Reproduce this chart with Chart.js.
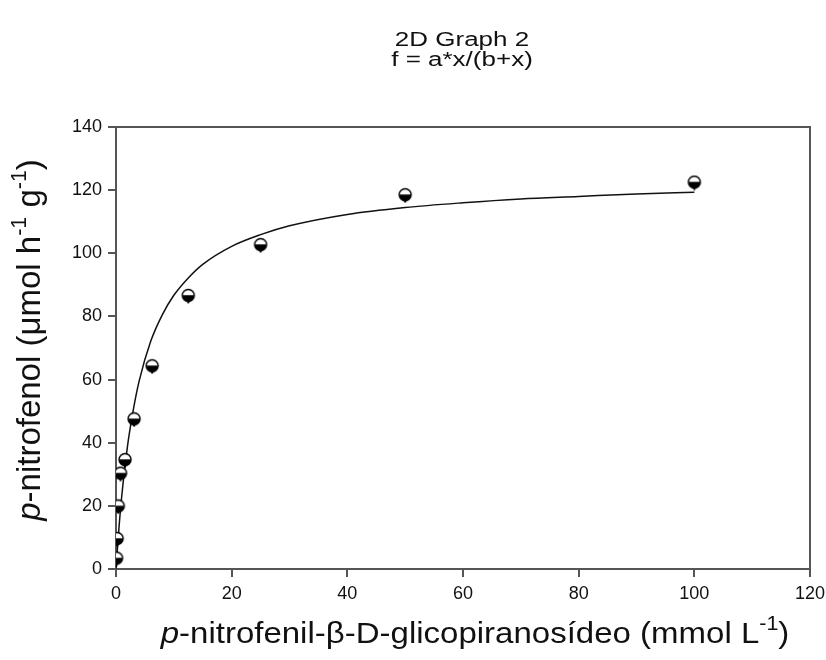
<!DOCTYPE html>
<html>
<head>
<meta charset="utf-8">
<script src="https://cdn.jsdelivr.net/npm/chart.js@4.4.0/dist/chart.umd.min.js"></script>
<style>
  html, body { margin: 0; padding: 0; background: #fff; }
  #wrap { width: 826px; height: 660px; }
</style>
</head>
<body>
<div id="wrap"><canvas id="chart"></canvas></div>
<script>
// measured points
const substrate = [0.1, 0.2, 0.39, 0.78, 1.56, 3.125, 6.25, 12.5, 25, 50, 100];
const activity = [3.3, 9.5, 19.8, 30.2, 34.5, 47.4, 64.2, 86.5, 102.6, 118.4, 122.4];
// fitted curve
const fitX = [0, 0.5, 1, 2, 3, 4, 6, 8, 10, 12.5, 15, 20, 25, 30, 40, 50, 60, 70, 80, 90, 100];
const fitY = [0, 12.7, 23.2, 39.1, 50.5, 59.5, 72.1, 80.5, 86.7, 92.2, 96.5, 102.2, 105.9, 108.7, 112.3, 114.5, 116.0, 117.2, 118.0, 118.8, 119.3];
const xTicks = [0, 20, 40, 60, 80, 100, 120];
const yTicks = [0, 20, 40, 60, 80, 100, 120, 140];

const titleLines = ["2D Graph 2", "f = a*x/(b+x)"];
const xTitle = [
  { t: "p", it: true }, { t: "-nitrofenil-\u03B2-D-glicopiranos\u00EDdeo (mmol L" },
  { t: "-1", sup: true }, { t: ")" }
];
const yTitle = [
  { t: "p", it: true }, { t: "-nitrofenol (\u03BCmol h" }, { t: "-1", sup: true },
  { t: " g" }, { t: "-1", sup: true }, { t: ")" }
];

const FONT = "'Liberation Sans', Arial, sans-serif";

// half white / half black circle marker
function makeMarker() {
  const c = document.createElement("canvas");
  c.width = 16; c.height = 16;
  const g = c.getContext("2d");
  const cx = 8, cy = 7.5, r = 6;
  g.fillStyle = "#fff";
  g.beginPath(); g.arc(cx, cy, r, 0, Math.PI * 2); g.fill();
  g.fillStyle = "#000";
  g.beginPath(); g.arc(cx, cy, r, 0, Math.PI); g.closePath(); g.fill();
  g.beginPath(); g.moveTo(cx - r, cy); g.lineTo(cx + r, cy); g.lineTo(cx, cy + r + 2.5); g.closePath(); g.fill();
  g.strokeStyle = "#000"; g.lineWidth = 1.4;
  g.beginPath(); g.arc(cx, cy, r, 0, Math.PI * 2); g.stroke();
  return c;
}

function drawRich(ctx, segs, size, cx, baseY, sx) {
  const parts = segs.map(s => {
    const fs = s.sup ? size * 0.65 : size;
    const font = (s.it ? "italic " : "") + fs + "px " + FONT;
    ctx.font = font;
    return { s, font, w: ctx.measureText(s.t).width };
  });
  const total = parts.reduce((a, p) => a + p.w, 0);
  ctx.save();
  ctx.translate(cx, baseY);
  ctx.scale(sx || 1, 1);
  let x = -total / 2;
  ctx.textAlign = "left";
  ctx.textBaseline = "alphabetic";
  parts.forEach(p => {
    ctx.font = p.font;
    ctx.fillText(p.s.t, x, p.s.sup ? -size * 0.42 : 0);
    x += p.w;
  });
  ctx.restore();
}

const textPlugin = {
  id: "texts",
  afterDraw(chart) {
    const { ctx, chartArea: a } = chart;
    ctx.save();
    ctx.strokeStyle = "#555";
    ctx.lineWidth = 2;
    ctx.beginPath();
    ctx.moveTo(a.left, a.top); ctx.lineTo(a.right, a.top); ctx.lineTo(a.right, a.bottom);
    ctx.stroke();

    ctx.fillStyle = "#111";
    drawRich(ctx, [{ t: titleLines[0] }], 20, 462, 46, 1.3);
    drawRich(ctx, [{ t: titleLines[1] }], 20, 462, 66, 1.3);

    drawRich(ctx, xTitle, 30, 475, 643, 1.1);
    ctx.translate(40, 340);
    ctx.rotate(-Math.PI / 2);
    drawRich(ctx, yTitle, 33, 0, 0, 1);
    ctx.restore();
  }
};

const axisGrid = { display: true, drawOnChartArea: false, drawTicks: true, tickLength: 8, color: "#555", lineWidth: 2 };
const axisBorder = { display: true, color: "#555", width: 2 };

new Chart(document.getElementById("chart"), {
  type: "scatter",
  data: {
    datasets: [
      {
        label: "data",
        data: substrate.map((x, i) => ({ x, y: activity[i] })),
        pointStyle: makeMarker(),
        pointRadius: 7,
        showLine: false
      },
      {
        label: "fit",
        data: fitX.map((x, i) => ({ x, y: fitY[i] })),
        showLine: true,
        borderColor: "#111",
        borderWidth: 1.5,
        pointRadius: 0,
        cubicInterpolationMode: "monotone",
        fill: false
      }
    ]
  },
  options: {
    responsive: true,
    maintainAspectRatio: false,
    animation: false,
    layout: { padding: { left: 56, right: 16, top: 127, bottom: 51 } },
    plugins: { legend: { display: false }, tooltip: { enabled: false } },
    scales: {
      x: {
        type: "linear", min: 0, max: 120,
        afterFit: s => { s.height = 40; s.paddingRight = 0; s.paddingLeft = 0; },
        afterBuildTicks: s => { s.ticks = xTicks.map(v => ({ value: v })); },
        ticks: { color: "#111", font: { size: 18, family: FONT }, padding: 6 },
        grid: axisGrid, border: axisBorder
      },
      y: {
        type: "linear", min: 0, max: 140,
        afterFit: s => { s.width = 60; },
        afterBuildTicks: s => { s.ticks = yTicks.map(v => ({ value: v })); },
        ticks: { color: "#111", font: { size: 18, family: FONT }, padding: 6 },
        grid: axisGrid, border: axisBorder
      }
    }
  },
  plugins: [textPlugin]
});
</script>
</body>
</html>
